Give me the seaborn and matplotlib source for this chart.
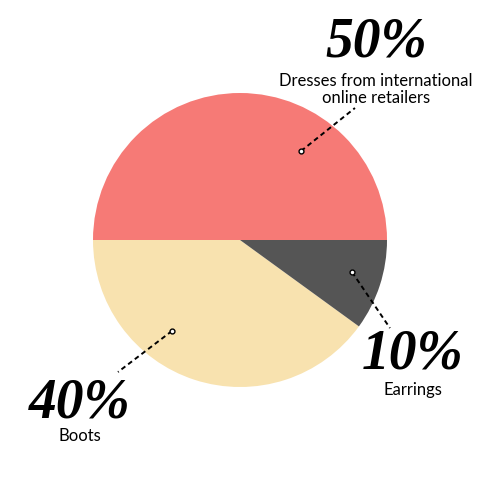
import matplotlib
matplotlib.use("Agg")
import matplotlib.pyplot as plt
import seaborn as sns

categories = ["Dresses from international\nonline retailers", "Boots", "Earrings"]
values = [50, 40, 10]
pct_labels = ["50%", "40%", "10%"]
colors = ["#F67A76", "#F8E2AF", "#555555"]

sns.set_theme(style="white")
plt.rcParams['font.family'] = ['Lato', 'DejaVu Sans']

fig = plt.figure(figsize=(4.8, 4.8), dpi=100)
ax = fig.add_axes([0, 0, 1, 1])
ax.pie(values, colors=colors, startangle=0, counterclock=True, radius=1.0,
       wedgeprops=dict(linewidth=0))
lim = 240 / 147
ax.set_xlim(-lim, lim)
ax.set_ylim(-lim, lim)
ax.set_aspect('equal')
ax.axis('off')

# annotation anchors (dot in slice, end of leader), text positions
dots = [(0.415, 0.605), (-0.463, -0.619), (0.762, -0.218)]
ends = [(0.782, 0.898), (-0.830, -0.898), (1.020, -0.599)]
pct_pos = [(0.925, 1.25), (-1.09, -1.205), (1.175, -0.875)]
lab_pos = [(0.925, 1.025), (-1.09, -1.335), (1.175, -1.02)]

for d, e, pp, lp, pct, cat in zip(dots, ends, pct_pos, lab_pos, pct_labels, categories):
    ax.plot([d[0], e[0]], [d[1], e[1]], color="black", lw=1.4, ls=(0, (2.5, 1.8)))
    ax.plot([d[0]], [d[1]], marker='o', ms=3.5, mfc='white', mec='black', mew=1.0)
    ax.text(pp[0], pp[1], pct, ha='center', va='baseline', fontsize=40,
            family='Liberation Serif', style='italic', weight='bold', color='black')
    ax.text(lp[0], lp[1], cat, ha='center', va='center', fontsize=12,
            color='black', linespacing=1.05)

fig.savefig("out.png", dpi=100)
